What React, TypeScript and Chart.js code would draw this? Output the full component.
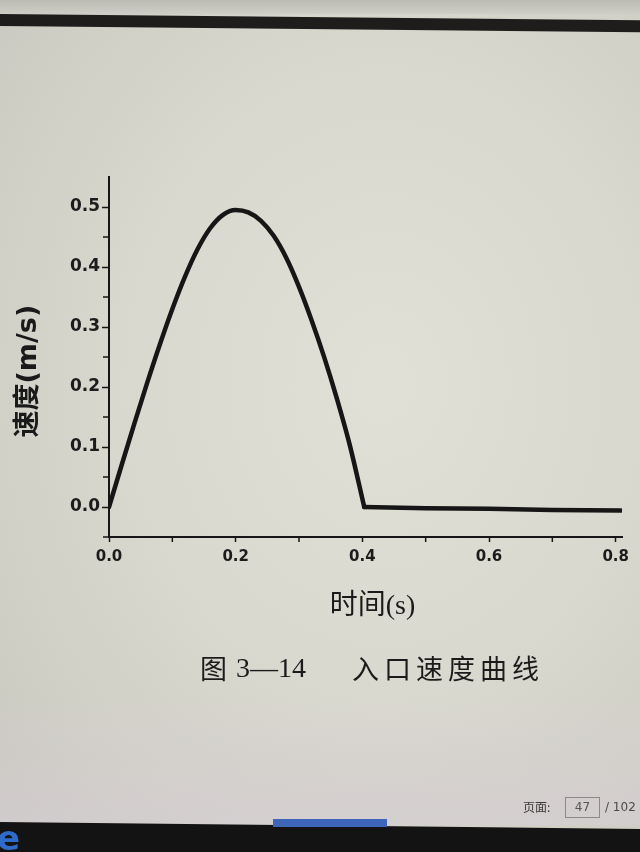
import React, { useEffect, useRef } from "react";
import { Chart, registerables } from "chart.js";

Chart.register(...registerables);

// ---- data ----
const timeS = [
  0, 0.02, 0.04, 0.06, 0.08, 0.1, 0.12, 0.14, 0.16, 0.18, 0.2, 0.22, 0.24, 0.26, 0.28, 0.3,
  0.32, 0.34, 0.36, 0.38, 0.403, 0.5, 0.6, 0.7, 0.808,
];
const velocity = [
  0, 0.07, 0.139, 0.206, 0.27, 0.33, 0.384, 0.43, 0.465, 0.487, 0.495, 0.491, 0.477, 0.452,
  0.415, 0.367, 0.311, 0.249, 0.18, 0.104, 0, -0.002, -0.003, -0.005, -0.006,
];
const xTickValues = [0, 0.2, 0.4, 0.6, 0.8];
const xMinorTickValues = [0.1, 0.3, 0.5, 0.7];
const yTickValues = [0, 0.1, 0.2, 0.3, 0.4, 0.5];
const yMinorTickValues = [-0.05, 0.05, 0.15, 0.25, 0.35, 0.45];
const xTitle = "  时间(s)";
const yTitle = "速度(m/s)   ";
const captionFigure = "图";
const captionNumber = "3—14";
const captionText = "入口速度曲线";

const INK = "#161616";

// the inlet valve closes where the velocity first returns to zero after the peak
const peakIndex = velocity.indexOf(Math.max(...velocity));
const closeIndex = velocity.findIndex((v, i) => i > peakIndex && v <= 0);
const points = timeS.map((t, i) => ({ x: t, y: velocity[i] }));

const minorTicksPlugin = {
  id: "minorTicks",
  afterDraw(chart: any) {
    const { ctx, chartArea, scales } = chart;
    const x = scales.x;
    const y = scales.y;
    ctx.save();
    ctx.strokeStyle = INK;
    ctx.lineWidth = 1.5;
    ctx.beginPath();
    for (const v of xMinorTickValues) {
      const px = x.getPixelForValue(v);
      ctx.moveTo(px, chartArea.bottom);
      ctx.lineTo(px, chartArea.bottom + 5);
    }
    for (const v of yMinorTickValues) {
      const py = y.getPixelForValue(v);
      ctx.moveTo(chartArea.left, py);
      ctx.lineTo(chartArea.left - 6, py);
    }
    ctx.stroke();
    ctx.restore();
  },
};

const lineStyle = {
  showLine: true,
  borderColor: INK,
  borderWidth: 4.5,
  pointRadius: 0,
  borderCapStyle: "round",
  borderJoinStyle: "round",
  fill: false,
};

function VelocityChart() {
  const ref = useRef<HTMLCanvasElement | null>(null);
  useEffect(() => {
    if (!ref.current) return;
    const chart = new Chart(ref.current, {
      type: "scatter",
      data: {
        datasets: [
          { ...lineStyle, data: points.slice(0, closeIndex + 1), cubicInterpolationMode: "monotone" } as any,
          { ...lineStyle, data: points.slice(closeIndex), tension: 0 } as any,
        ],
      },
      options: {
        responsive: false,
        animation: false,
        devicePixelRatio: 1,
        layout: { padding: { left: 0, top: 177, right: 18, bottom: 229 } },
        plugins: { legend: { display: false }, tooltip: { enabled: false }, title: { display: false } },
        scales: {
          x: {
            type: "linear",
            position: "bottom",
            min: 0,
            max: 0.81,
            afterFit: (s: any) => {
              s.height = 86;
            },
            afterBuildTicks: (s: any) => {
              s.ticks = xTickValues.map((v) => ({ value: v }));
            },
            ticks: {
              color: "#1c1c1c",
              padding: 6,
              font: { family: "'DejaVu Sans'", size: 15, weight: "bold" },
              callback: (v: any) => Number(v).toFixed(1),
              maxRotation: 0,
            },
            grid: { drawOnChartArea: false, drawTicks: true, tickLength: 5, tickColor: INK, tickWidth: 1.5 },
            border: { display: true, color: INK, width: 2 },
            title: {
              display: true,
              text: xTitle,
              color: "#1a1a1a",
              font: { family: "'Liberation Serif', 'Noto Sans CJK SC'", size: 28, weight: "normal" },
              padding: { top: 0, bottom: 0 },
            },
          },
          y: {
            type: "linear",
            position: "left",
            min: -0.05,
            max: 0.55,
            afterFit: (s: any) => {
              s.width = 109;
            },
            afterBuildTicks: (s: any) => {
              s.ticks = yTickValues.map((v) => ({ value: v }));
            },
            ticks: {
              color: "#1c1c1c",
              padding: 2,
              font: { family: "'DejaVu Sans'", size: 17, weight: "bold" },
              callback: (v: any) => Number(v).toFixed(1),
            },
            grid: { drawOnChartArea: false, drawTicks: true, tickLength: 7, tickColor: INK, tickWidth: 1.5 },
            border: { display: true, color: INK, width: 2 },
            title: {
              display: true,
              text: yTitle,
              color: "#1a1a1a",
              font: { family: "'DejaVu Sans', 'Noto Sans CJK SC'", size: 27, weight: "bold" },
              padding: { top: 13, bottom: 0 },
            },
          },
        },
      },
      plugins: [minorTicksPlugin],
    });
    return () => chart.destroy();
  }, []);
  return (
    <canvas
      ref={ref}
      width={640}
      height={852}
      style={{ position: "absolute", left: 0, top: 0, width: 640, height: 852 }}
    />
  );
}

export default function App() {
  return (
    <div
      style={{
        position: "fixed",
        left: 0,
        top: 0,
        width: 640,
        height: 852,
        overflow: "hidden",
        background:
          "radial-gradient(ellipse at 60% 45%, #e1e0d7 0%, #dad9d0 45%, #cfcec5 80%, #c8c7bf 100%)",
      }}
    >
      {/* lavender tint near the bottom of the photo */}
      <div
        style={{
          position: "absolute",
          left: 0,
          top: 700,
          width: 640,
          height: 125,
          background: "linear-gradient(180deg, rgba(214,205,214,0) 0%, rgba(214,205,214,0.55) 100%)",
        }}
      />
      {/* top rule of the page */}
      <div
        style={{
          position: "absolute",
          left: -10,
          top: 14,
          width: 670,
          height: 12,
          background: "#1e1d1b",
          transform: "rotate(0.55deg)",
          transformOrigin: "0 0",
        }}
      />
      <div style={{ position: "absolute", left: 0, top: 0, width: 640, height: 14, background: "linear-gradient(180deg,#bdbcb4,#cfcec6)" }} />
      <VelocityChart />
      {/* caption */}
      <div
        style={{
          position: "absolute",
          top: 650,
          left: 0,
          width: 640,
          height: 40,
          color: "#1b1b1b",
          fontSize: 27,
          lineHeight: "36px",
        }}
      >
        <span style={{ position: "absolute", left: 200, fontFamily: "'Noto Sans CJK SC'" }}>{captionFigure}</span>
        <span style={{ position: "absolute", left: 236, fontFamily: "'Liberation Serif'", fontSize: 28 }}>{captionNumber}</span>
        <span style={{ position: "absolute", left: 352, fontFamily: "'Noto Sans CJK SC'", letterSpacing: 5 }}>{captionText}</span>
      </div>
      {/* page indicator of the viewer */}
      <div style={{ position: "absolute", left: 523, top: 798, fontSize: 12, color: "#3a3a3a", fontFamily: "'Noto Sans CJK SC'", lineHeight: "18px" }}>
        页面:
      </div>
      <div
        style={{
          position: "absolute",
          left: 565,
          top: 797,
          width: 33,
          height: 19,
          border: "1px solid #8a8a8a",
          fontSize: 12,
          color: "#555",
          fontFamily: "'DejaVu Sans'",
          lineHeight: "19px",
          textAlign: "center",
        }}
      >
        47
      </div>
      <div style={{ position: "absolute", left: 605, top: 798, fontSize: 12, color: "#4a4a4a", fontFamily: "'DejaVu Sans'", lineHeight: "18px" }}>
        / 102
      </div>
      {/* dark screen bezel at the bottom */}
      <div
        style={{
          position: "absolute",
          left: 0,
          top: 815,
          width: 640,
          height: 37,
          background: "#141313",
          clipPath: "polygon(0 7px, 100% 14px, 100% 100%, 0 100%)",
        }}
      />
      <div style={{ position: "absolute", left: 273, top: 819, width: 114, height: 8, background: "#3d66bb" }} />
      <div
        style={{
          position: "absolute",
          left: -3,
          top: 818,
          fontSize: 34,
          fontWeight: "bold",
          color: "#2f6cc9",
          fontFamily: "'DejaVu Sans'",
          lineHeight: "40px",
        }}
      >
        e
      </div>
    </div>
  );
}
